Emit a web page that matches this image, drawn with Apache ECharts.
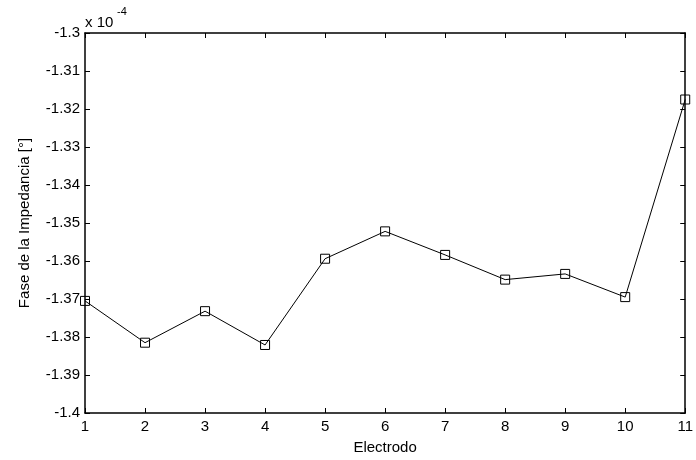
<!DOCTYPE html>
<html>
<head>
<meta charset="utf-8">
<script src="https://cdn.jsdelivr.net/npm/echarts@6/dist/echarts.min.js"></script>
<style>html,body{margin:0;padding:0;background:#fff}#c{width:696px;height:460px}</style>
</head>
<body>
<div id="c"></div>
<script>
var electrodes = ['1','2','3','4','5','6','7','8','9','10','11'];
var phase = [-1.3705, -1.3815, -1.3732, -1.3821, -1.3594, -1.3522, -1.3584, -1.3649, -1.3634, -1.3695, -1.3175];
var yMin = -1.4, yMax = -1.3, yStep = 0.01;

var font = 'Liberation Sans, Arial, Helvetica, sans-serif';
var fs = 15;
function fmt(v){ return String(parseFloat(v.toFixed(2))); }
var chart = echarts.init(document.getElementById('c'));
var data = electrodes.map(function(e,i){ return [Number(e), phase[i]]; });
chart.setOption({
  animation: false,
  backgroundColor: '#fff',
  grid: {left: 85, right: 7, top: 33, bottom: 45},
  graphic: [
    {type: 'text', left: 85, top: 15, style: {text: 'x 10', font: '15px ' + font, fill: '#000'}},
    {type: 'text', left: 117, top: 6, style: {text: '-4', font: '11px ' + font, fill: '#000'}}
  ],
  xAxis: [{
    type: 'value', min: 1, max: 11, interval: 1,
    name: 'Electrodo', nameLocation: 'middle', nameGap: 27,
    nameTextStyle: {fontFamily: font, fontSize: fs, color: '#000'},
    axisLine: {lineStyle: {color: '#000', width: 1.5}},
    axisTick: {inside: true, length: 5, lineStyle: {color: '#000'}},
    axisLabel: {fontFamily: font, fontSize: fs, color: '#000', margin: 6,
      formatter: function(v){ return electrodes[Math.round(v)-1] || ''; }},
    splitLine: {show: false}
  },{
    type: 'value', min: 1, max: 11, interval: 1, position: 'top',
    axisLine: {lineStyle: {color: '#000', width: 1.5}},
    axisTick: {inside: true, length: 5, lineStyle: {color: '#000'}},
    axisLabel: {show: false}, splitLine: {show: false}
  }],
  yAxis: [{
    type: 'value', min: yMin, max: yMax, interval: yStep,
    name: 'Fase de la Impedancia [°]', nameLocation: 'middle', nameGap: 53,
    nameTextStyle: {fontFamily: font, fontSize: fs, color: '#000'},
    axisLine: {show: true, lineStyle: {color: '#000', width: 1.5}},
    axisTick: {show: true, inside: true, length: 5, lineStyle: {color: '#000'}},
    axisLabel: {fontFamily: font, fontSize: fs, color: '#000', margin: 5, formatter: fmt},
    splitLine: {show: false}
  },{
    type: 'value', min: yMin, max: yMax, interval: yStep, position: 'right',
    axisLine: {show: true, lineStyle: {color: '#000', width: 1.5}},
    axisTick: {show: true, inside: true, length: 5, lineStyle: {color: '#000'}},
    axisLabel: {show: false}, splitLine: {show: false}
  }],
  series: [{
    type: 'line', data: data,
    symbol: 'rect', symbolSize: 9,
    lineStyle: {color: '#000', width: 1},
    itemStyle: {color: 'rgba(0,0,0,0)', borderColor: '#000', borderWidth: 1},
    showAllSymbol: true
  }]
});
</script>
</body>
</html>
